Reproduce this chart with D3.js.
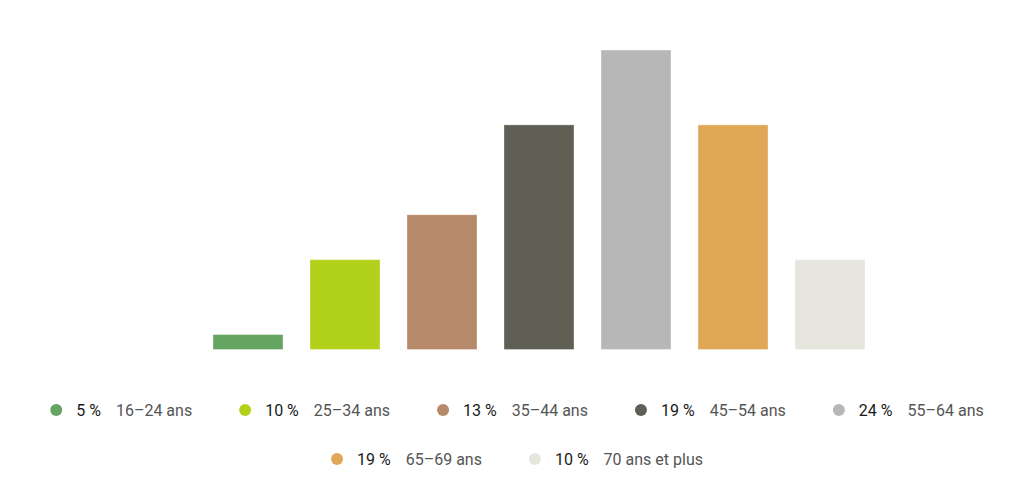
<!DOCTYPE html>
<html><head><meta charset="utf-8">
<script src="https://cdn.jsdelivr.net/npm/d3@7"></script>
<style>body{margin:0;background:#fff;}svg{display:block;font-family:Roboto,"Noto Sans",sans-serif;}</style>
</head><body><svg id="c" width="1024" height="503"></svg>
<script>
const categories = ["16–24 ans","25–34 ans","35–44 ans","45–54 ans","55–64 ans","65–69 ans","70 ans et plus"];
const values = [5,10,13,19,24,19,10];
const colors = ["#66a561","#b2d11b","#b6896a","#5f5f56","#b7b7b7","#e0a757","#e6e6df"];
const valueLabels = ["5 %","10 %","13 %","19 %","24 %","19 %","10 %"];

const svg = d3.select("#c");
const x = d3.scaleBand().domain(categories).range([213,865]).paddingInner(27/97).paddingOuter(0);
const y = d3.scaleLinear().domain([4,24]).range([349.5,50]);

svg.append("g").selectAll("rect").data(values).join("rect")
  .attr("x",(d,i)=>x(categories[i]))
  .attr("width",x.bandwidth())
  .attr("y",d=>y(d))
  .attr("height",d=>y(4)-y(d))
  .attr("fill",(d,i)=>colors[i])
  .attr("stroke","rgba(255,255,255,0.35)").attr("stroke-width",1);

// legend
const lg = svg.append("g");
const items = categories.map((c,i)=>{
  const g = lg.append("g");
  g.append("circle").attr("cx",6).attr("cy",0).attr("r",6).attr("fill",colors[i]);
  const v = g.append("text").attr("x",26).attr("y",6).attr("font-size",16).attr("fill","#1a1a1a").text(valueLabels[i]);
  const vw = v.node().getComputedTextLength();
  const l = g.append("text").attr("x",26+vw+15).attr("y",6).attr("font-size",16).attr("fill","#555").text(c);
  const w = 26+vw+15+l.node().getComputedTextLength();
  return {g,w};
});
const gap = 47, maxW = 960, cx = 517;
let rows=[[]], rw=0;
items.forEach(it=>{
  const add = (rows[rows.length-1].length? gap:0)+it.w;
  if(rw+add>maxW && rows[rows.length-1].length){rows.push([it]);rw=it.w;}
  else {rows[rows.length-1].push(it);rw+=add;}
});
rows.forEach((row,ri)=>{
  const tw = d3.sum(row,d=>d.w)+gap*(row.length-1);
  let xx = cx - tw/2;
  row.forEach(it=>{it.g.attr("transform",`translate(${xx},${410+ri*49})`);xx+=it.w+gap;});
});
</script></body></html>
